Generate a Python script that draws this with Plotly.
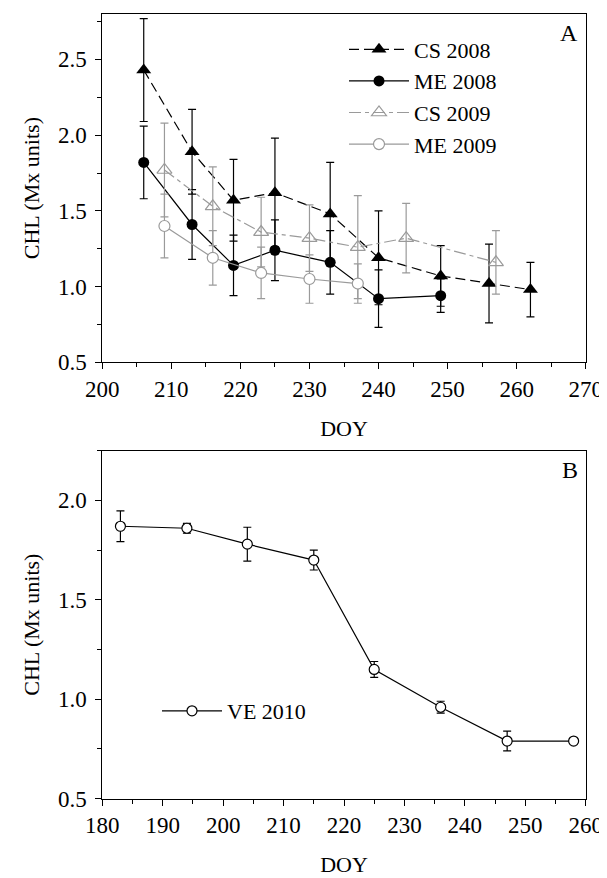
import plotly.graph_objects as go

# ---------------- Data ----------------
cs08_doy = [206, 213, 219, 225, 233, 240, 249, 256, 262]
cs08_val = [2.43, 1.89, 1.57, 1.62, 1.48, 1.19, 1.07, 1.02, 0.98]
cs08_err = [0.34, 0.28, 0.27, 0.36, 0.34, 0.31, 0.20, 0.26, 0.18]

me08_doy = [206, 213, 219, 225, 233, 240, 249]
me08_val = [1.82, 1.41, 1.14, 1.24, 1.16, 0.92, 0.94]
me08_err = [0.24, 0.23, 0.20, 0.20, 0.21, 0.19, 0.11]

cs09_doy = [209, 216, 223, 230, 237, 244, 257]
cs09_val = [1.77, 1.53, 1.36, 1.32, 1.26, 1.32, 1.16]
cs09_err = [0.31, 0.26, 0.23, 0.22, 0.34, 0.23, 0.21]

me09_doy = [209, 216, 223, 230, 237]
me09_val = [1.40, 1.19, 1.09, 1.05, 1.02]
me09_err = [0.21, 0.18, 0.17, 0.16, 0.13]

ve10_doy = [183, 194, 204, 215, 225, 236, 247, 258]
ve10_val = [1.87, 1.86, 1.78, 1.70, 1.15, 0.96, 0.79, 0.79]
ve10_err = [0.077, 0.025, 0.085, 0.05, 0.04, 0.03, 0.05, 0.01]

FONT = "Liberation Serif, Times New Roman, serif"
BLACK = "#000000"
GRAY = "#9a9a9a"
OFF = 8                 # default body margin of the html page
W, H = 607 - OFF, 878 - OFF

def px_x(x):            # page pixel -> paper fraction
    return (x - OFF) / W

def px_y(y):
    return (H - (y - OFF)) / H

fig = go.Figure()

def err(arr, color):
    return dict(type="data", array=arr, visible=True, color=color,
                thickness=1.2, width=4)

fig.add_trace(go.Scatter(
    x=cs08_doy, y=cs08_val, name="CS 2008", mode="lines+markers",
    line=dict(color=BLACK, width=1.2, dash="10px,5px"),
    marker=dict(symbol="triangle-up", size=13, color=BLACK),
    error_y=err(cs08_err, BLACK), xaxis="x", yaxis="y", legend="legend"))

fig.add_trace(go.Scatter(
    x=me08_doy, y=me08_val, name="ME 2008", mode="lines+markers",
    line=dict(color=BLACK, width=1.2),
    marker=dict(symbol="circle", size=11, color=BLACK),
    error_y=err(me08_err, BLACK), xaxis="x", yaxis="y", legend="legend"))

fig.add_trace(go.Scatter(
    x=cs09_doy, y=cs09_val, name="CS 2009", mode="lines+markers",
    line=dict(color=GRAY, width=1.2, dash="12px,4px,4px,4px"),
    marker=dict(symbol="triangle-up-open", size=13, color=GRAY,
                line=dict(color=GRAY, width=1.2)),
    error_y=err(cs09_err, GRAY), xaxis="x", yaxis="y", legend="legend"))

fig.add_trace(go.Scatter(
    x=me09_doy, y=me09_val, name="ME 2009", mode="lines+markers",
    line=dict(color=GRAY, width=1.2),
    marker=dict(symbol="circle", size=11, color="white",
                line=dict(color=GRAY, width=1.2)),
    error_y=err(me09_err, GRAY), xaxis="x", yaxis="y", legend="legend"))

fig.add_trace(go.Scatter(
    x=ve10_doy, y=ve10_val, name="VE 2010", mode="lines+markers",
    line=dict(color=BLACK, width=1.2),
    marker=dict(symbol="circle", size=10, color="white",
                line=dict(color=BLACK, width=1.2)),
    error_y=err(ve10_err, BLACK), xaxis="x2", yaxis="y2", legend="legend2"))

xdom = [px_x(102.3), px_x(585.7)]
ya = [px_y(362.3), px_y(14)]
yb = [px_y(798.7), px_y(450.7)]

tickfont = dict(family=FONT, size=23, color=BLACK)
titlefont = dict(family=FONT, size=22, color=BLACK)
axcommon = dict(showline=True, linecolor=BLACK, linewidth=1, mirror=True,
                ticks="outside", ticklen=6, tickwidth=1, tickcolor=BLACK,
                showgrid=False, zeroline=False, tickfont=tickfont,
                automargin=False)

fig.update_layout(
    width=W, height=H,
    margin=dict(l=0, r=0, t=0, b=0, autoexpand=False),
    paper_bgcolor="white", plot_bgcolor="white",
    font=dict(family=FONT, size=22, color=BLACK),
    xaxis=dict(domain=xdom, range=[200, 270], dtick=10, tick0=200,
               minor=dict(dtick=5, ticks="outside", ticklen=4, tickcolor=BLACK),
               title=dict(text="DOY", font=titlefont, standoff=19),
               anchor="y", **axcommon),
    yaxis=dict(domain=ya, range=[0.5, 2.8], dtick=0.5, tick0=0.5,
               tickformat=".1f", ticklabelstandoff=4,
               minor=dict(dtick=0.25, ticks="outside", ticklen=4, tickcolor=BLACK),
               title=dict(text="CHL (Mx units)", font=titlefont, standoff=12),
               anchor="x", **axcommon),
    xaxis2=dict(domain=xdom, range=[180, 260], dtick=10, tick0=180,
                minor=dict(dtick=5, ticks="outside", ticklen=4, tickcolor=BLACK),
                title=dict(text="DOY", font=titlefont, standoff=19),
                anchor="y2", **axcommon),
    yaxis2=dict(domain=yb, range=[0.5, 2.25], dtick=0.5, tick0=0.5,
                tickformat=".1f", ticklabelstandoff=4,
                minor=dict(dtick=0.25, ticks="outside", ticklen=4, tickcolor=BLACK),
                title=dict(text="CHL (Mx units)", font=titlefont, standoff=12),
                anchor="x2", **axcommon),
    legend=dict(x=px_x(344), y=px_y(28.5), xanchor="left", yanchor="top",
                bgcolor="rgba(0,0,0,0)", font=dict(family=FONT, size=22),
                itemwidth=60, tracegroupgap=0),
    legend2=dict(x=px_x(157), y=px_y(690), xanchor="left", yanchor="top",
                 bgcolor="rgba(0,0,0,0)", font=dict(family=FONT, size=22),
                 itemwidth=60),
    showlegend=True,
    annotations=[
        dict(text="A", x=1, y=1, xref="x domain", yref="y domain",
             xanchor="right", yanchor="top", showarrow=False,
             font=dict(family=FONT, size=24), xshift=-6, yshift=-4),
        dict(text="B", x=1, y=1, xref="x2 domain", yref="y2 domain",
             xanchor="right", yanchor="top", showarrow=False,
             font=dict(family=FONT, size=24), xshift=-6, yshift=-4),
    ],
)

fig.write_html("out.html")
